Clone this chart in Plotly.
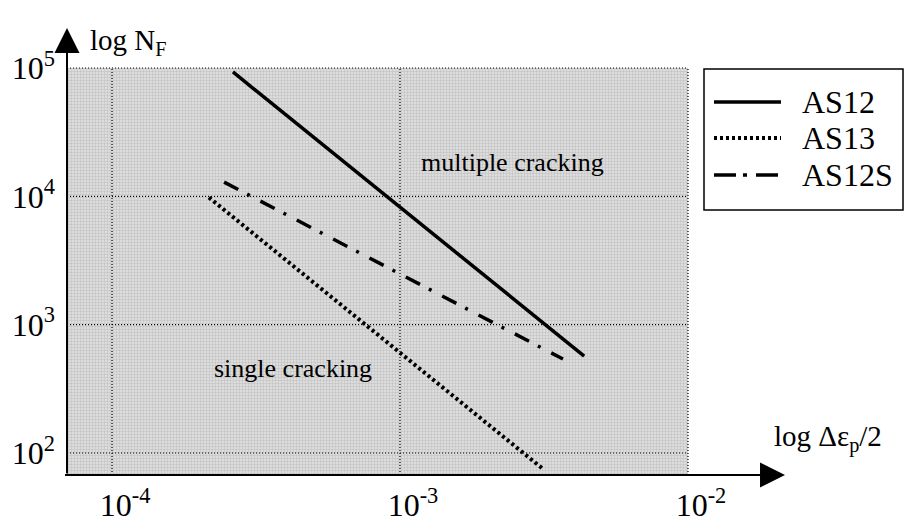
import plotly.graph_objects as go

# ---- data ----
series_names = ["AS12", "AS13", "AS12S"]
as12_strain = [2.63e-4, 4.36e-3]
as12_cycles = [93100, 569]
as13_strain = [2.17e-4, 3.14e-3]
as13_cycles = [9800, 75]
as12s_strain = [2.45e-4, 3.68e-3]
as12s_cycles = [12900, 540]

x_tickvals = [1e-4, 1e-3, 1e-2]
x_ticktext = ["10<sup>-4</sup>", "10<sup>-3</sup>", "10<sup>-2</sup>"]
y_tickvals = [1e2, 1e3, 1e4, 1e5]
y_ticktext = ["10<sup>2</sup>", "10<sup>3</sup>", "10<sup>4</sup>", "10<sup>5</sup>"]

region_labels = ["multiple cracking", "single cracking"]

# ---- layout constants ----
FONT = "Liberation Serif, Times New Roman, Times, serif"
L, R, T, B = 67, 106, 25, 47          # margins (px)
W, H = 906, 522
PW, PH = W - L - R, H - T - B
XL0, XL1 = -4.1563, -1.611            # x axis range (log10)
YL0, YL1 = 1.8285, 5.335              # y axis range (log10)
x_org, y_org = 10 ** XL0, 10 ** YL0
x_tip, y_tip = -1.663, 5.312


def px(xp):
    return (xp - L) / PW


def py(yp):
    return (H - B - yp) / PH


line_styles = [
    dict(color="black", width=3.5),
    dict(color="black", width=4, dash="3px,3px"),
    dict(color="black", width=3.5, dash="16px,10px,3px,12px"),
]
legend_dash = [None, "3px,3px", "22px,7px,4px,9px"]
legend_width = [3.5, 4, 3.5]

fig = go.Figure()

# gray textured region
fig.add_trace(go.Scatter(
    x=[x_org, x_tickvals[-1], x_tickvals[-1], x_org, x_org],
    y=[y_org, y_org, y_tickvals[-1], y_tickvals[-1], y_org],
    mode="lines", fill="toself", line=dict(width=0),
    fillcolor="#d4d4d4",
    fillpattern=dict(shape=".", bgcolor="#e4e4e4", fgcolor="#a4a4a4",
                     size=3, solidity=0.5),
    showlegend=False, hoverinfo="skip"))

# dotted grid lines (limited to the gray region)
for xv in x_tickvals:
    fig.add_trace(go.Scatter(x=[xv, xv], y=[y_org, y_tickvals[-1]], mode="lines",
                             line=dict(color="black", width=1.2, dash="1px,2px"),
                             showlegend=False, hoverinfo="skip"))
for yv in y_tickvals:
    fig.add_trace(go.Scatter(x=[x_org, x_tickvals[-1]], y=[yv, yv], mode="lines",
                             line=dict(color="black", width=1.2, dash="1px,2px"),
                             showlegend=False, hoverinfo="skip"))

# data series
for name, xs, ys, st in zip(series_names,
                            [as12_strain, as13_strain, as12s_strain],
                            [as12_cycles, as13_cycles, as12s_cycles],
                            line_styles):
    fig.add_trace(go.Scatter(x=xs, y=ys, mode="lines", name=name, line=st,
                             showlegend=False, hoverinfo="skip"))

annotations = [
    # axes with arrows
    dict(x=x_tip, y=YL0, ax=XL0 - 0.012, ay=YL0, xref="x", yref="y", axref="x", ayref="y",
         text="", showarrow=True, arrowhead=2, arrowsize=2.5, arrowwidth=2, arrowcolor="black"),
    dict(x=XL0, y=y_tip, ax=XL0, ay=YL0, xref="x", yref="y", axref="x", ayref="y",
         text="", showarrow=True, arrowhead=2, arrowsize=2.5, arrowwidth=2, arrowcolor="black"),
    # axis titles
    dict(x=px(88), y=py(42), xref="paper", yref="paper", text="log N<sub>F</sub>",
         showarrow=False, xanchor="left", yanchor="middle",
         font=dict(family=FONT, size=29, color="black")),
    dict(x=px(772), y=py(438), xref="paper", yref="paper", text="log Δε<sub>p</sub>/2",
         showarrow=False, xanchor="left", yanchor="middle",
         font=dict(family=FONT, size=29, color="black")),
    # region labels
    dict(x=-2.608, y=4.26, xref="x", yref="y", text=region_labels[0], showarrow=False,
         font=dict(family=FONT, size=26, color="black")),
    dict(x=-3.372, y=2.662, xref="x", yref="y", text=region_labels[1], showarrow=False,
         font=dict(family=FONT, size=26, color="black")),
]

# hand-drawn legend box
shapes = [dict(type="rect", xref="paper", yref="paper",
               x0=px(704), x1=px(903), y0=py(210), y1=py(69),
               line=dict(color="black", width=1.5), fillcolor="white", layer="above")]
legend_rows = [102, 138, 175]
for name, dash, lw, yr in zip(series_names, legend_dash, legend_width, legend_rows):
    ln = dict(color="black", width=lw)
    if dash:
        ln["dash"] = dash
    shapes.append(dict(type="line", xref="paper", yref="paper",
                       x0=px(714), x1=px(781), y0=py(yr), y1=py(yr), line=ln,
                       layer="above"))
    annotations.append(dict(x=px(800), y=py(yr), xref="paper", yref="paper", text=name,
                            showarrow=False, xanchor="left", yanchor="middle",
                            font=dict(family=FONT, size=32, color="black")))

fig.update_layout(
    width=W, height=H,
    margin=dict(l=L, r=R, t=T, b=B),
    paper_bgcolor="white", plot_bgcolor="white",
    font=dict(family=FONT, color="black"),
    xaxis=dict(type="log", range=[XL0, XL1], showgrid=False, zeroline=False, showline=False,
               tickvals=x_tickvals, ticktext=x_ticktext, ticks="", automargin=False,
               tickfont=dict(family=FONT, size=32, color="black"),
               ticklabelshift=13, ticklabelstandoff=8, fixedrange=True),
    yaxis=dict(type="log", range=[YL0, YL1], showgrid=False, zeroline=False, showline=False,
               tickvals=y_tickvals, ticktext=y_ticktext, ticks="", automargin=False,
               tickfont=dict(family=FONT, size=32, color="black"),
               ticklabelstandoff=11, fixedrange=True),
    shapes=shapes,
    annotations=annotations,
    showlegend=False,
    hovermode=False,
)

fig.write_html("out.html",
               config={"displayModeBar": False},
               post_script="document.body.style.margin='0px';"
                           "document.body.style.overflow='hidden';")
